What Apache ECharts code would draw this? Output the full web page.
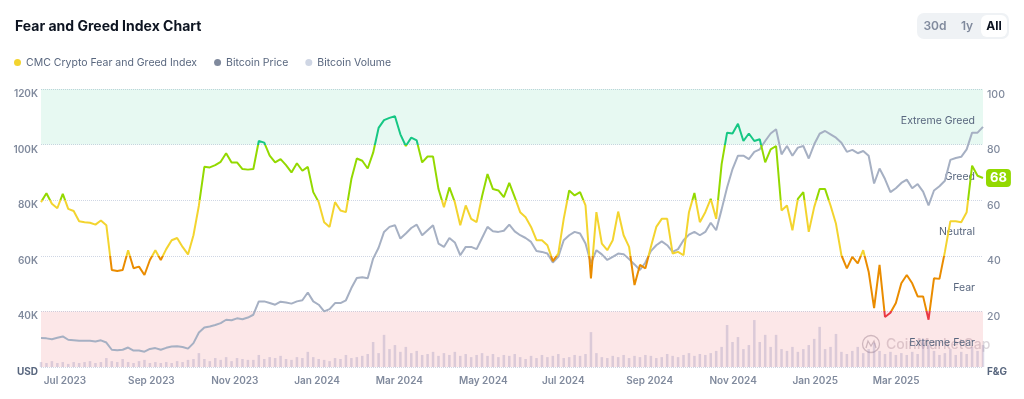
<!DOCTYPE html>
<html>
<head>
<meta charset="utf-8">
<title>Fear and Greed Index Chart</title>
<script src="https://cdn.jsdelivr.net/npm/echarts@6/dist/echarts.min.js"></script>
<style>
html, body { margin: 0; padding: 0; background: #fff; }
#chart { width: 1024px; height: 399px; }
</style>
</head>
<body>
<div id="chart"></div>
<script>
// one sample every 4 days, first one on 2023-06-29
var startDate = Date.UTC(2023, 5, 29);
var stepDays = 4;

// CMC Crypto Fear and Greed Index (0-100)
var fngValues = [
  59.3, 62.5, 58.7, 57.1, 62.3, 56.9, 56.1, 52.4, 52.1, 51.9,
  51.2, 52.7, 51, 34.9, 34.5, 34.9, 42, 35.5, 36.1, 33.1,
  38.5, 42, 38.5, 42.4, 45.6, 46.4, 43.2, 40.5, 47.4, 58.1,
  72, 71.8, 72.6, 73.8, 76.9, 73.6, 73.6, 71.2, 71, 71.2,
  81.3, 80.7, 76, 73.6, 74.8, 72.6, 70, 73.3, 70.6, 72,
  62.9, 59.3, 52.1, 50.4, 59.3, 56.3, 55.7, 67.6, 75, 74.2,
  71.4, 77.1, 86, 88.8, 89.6, 90.2, 83.7, 79.5, 82.5, 81.5,
  73.6, 75.7, 75.7, 64, 57.5, 64.6, 59.3, 51, 58.1, 53.3,
  52.1, 61.4, 69.4, 64, 63.5, 61.1, 66.2, 61.1, 55.7, 53.9,
  50.4, 45.6, 45.6, 43.8, 38.1, 40.8, 53.3, 63.5, 61.7, 62.9,
  58.1, 31.9, 55.7, 44.4, 42, 45.6, 55.9, 47.4, 43.2, 29.5,
  36.7, 35.5, 43.2, 50.4, 53.3, 53.3, 40.8, 41.4, 40.2, 55.7,
  62.6, 52.1, 55.7, 60.5, 53.3, 73, 84.3, 84, 87.5, 81.3,
  84, 81.3, 81.9, 73.6, 78.3, 79.5, 56.3, 58.1, 49.2, 60.5,
  62.9, 48.6, 57.5, 64, 64, 58.1, 51.5, 40.2, 35.5, 39.6,
  37.3, 42, 34.3, 21.2, 36.7, 18, 19.5, 23, 30.1, 33.1,
  30.1, 25.4, 25.4, 17, 31.9, 31.7, 41.4, 52.4, 52.4, 52.1,
  55.7, 72.4, 68.8, 68
];

// Bitcoin price, thousands of USD
var btcPrice = [
  30.4, 30.3, 30.0, 30.5, 31.0, 29.8, 29.6, 29.4, 29.4, 29.4,
  29.2, 29.6, 28.8, 26.2, 26.0, 26.2, 27.0, 25.9, 25.9, 25.5,
  26.5, 26.8, 26.2, 26.9, 27.4, 27.5, 27.2, 26.6, 28.6, 32.4,
  34.2, 34.6, 35.1, 35.8, 37.0, 36.8, 37.5, 37.2, 37.8, 38.8,
  43.6, 43.6, 43.0, 42.4, 43.5, 43.2, 42.8, 43.6, 44.0, 46.8,
  43.6, 42.4, 40.0, 40.8, 43.0, 43.0, 44.0, 48.4, 52.0, 52.3,
  51.9, 59.0, 62.9, 68.6, 70.4, 71.0, 66.2, 68.0, 70.0, 71.2,
  67.4, 69.2, 71.0, 64.4, 63.2, 66.4, 64.8, 60.2, 63.2, 63.2,
  62.4, 66.4, 70.4, 68.8, 68.6, 69.0, 71.2, 68.8, 67.4, 66.4,
  65.0, 61.7, 61.4, 60.8, 57.6, 59.6, 65.6, 67.4, 68.6, 68.0,
  64.4, 57.3, 62.0, 60.5, 58.5, 59.6, 60.8, 60.6, 58.8, 56.9,
  54.9, 57.6, 61.7, 63.8, 65.2, 63.8, 61.4, 62.4, 65.6, 67.6,
  68.6, 67.4, 68.6, 71.9, 69.2, 76.7, 84.6, 91.2, 96.0, 96.0,
  94.8, 97.4, 98.3, 101.3, 104.0, 105.5, 96.5, 99.5, 96.0, 98.9,
  99.5, 95.0, 100.1, 103.9, 104.9, 103.7, 102.5, 100.7, 97.4, 98.1,
  96.9, 97.7, 96.0, 86.0, 91.4, 87.6, 82.9, 84.3, 86.2, 87.4,
  84.3, 85.8, 83.1, 78.1, 83.5, 85.0, 87.0, 94.5, 95.2, 95.6,
  98.3, 104.3, 104.3, 106.4
];

// Bitcoin volume, billions of USD
var btcVolume = [
  16, 13, 19, 13, 16, 10, 16, 13, 16, 19,
  13, 16, 29, 19, 16, 26, 16, 13, 19, 23,
  13, 16, 13, 16, 13, 19, 16, 23, 26, 45,
  26, 19, 29, 23, 32, 19, 29, 26, 23, 23,
  39, 26, 32, 29, 36, 26, 23, 32, 29, 49,
  32, 26, 23, 19, 29, 26, 39, 29, 32, 36,
  42, 81, 45, 104, 58, 71, 49, 65, 45, 52,
  39, 42, 49, 36, 45, 39, 49, 36, 42, 32,
  39, 45, 36, 42, 32, 39, 36, 42, 32, 26,
  36, 29, 39, 32, 36, 42, 29, 32, 39, 36,
  42, 113, 45, 32, 29, 36, 32, 39, 29, 36,
  32, 39, 36, 29, 32, 42, 36, 32, 39, 45,
  36, 42, 39, 45, 52, 65, 136, 81, 97, 58,
  71, 152, 81, 104, 65, 104, 58, 52, 65, 49,
  58, 71, 91, 130, 58, 65, 107, 49, 42, 52,
  65, 45, 58, 78, 52, 42, 49, 39, 45, 39,
  49, 42, 91, 71, 52, 39, 45, 58, 39, 49,
  42, 65, 52, 71
];

var tickDates = ['2023-07-01', '2023-09-01', '2023-11-01', '2024-01-01', '2024-03-01', '2024-05-01',
  '2024-07-01', '2024-09-01', '2024-11-01', '2025-01-01', '2025-03-01'];
var monthNames = ['Jan', 'Feb', 'Mar', 'Apr', 'May', 'Jun', 'Jul', 'Aug', 'Sep', 'Oct', 'Nov', 'Dec'];

var bandNames = ['Extreme Fear', 'Fear', 'Neutral', 'Greed', 'Extreme Greed'];
var bandEdges = [0, 20, 40, 60, 80, 100];

function dayAt(i) {
  return startDate + i * stepDays * 86400000;
}
function parseDay(s) {
  var p = s.split('-');
  return Date.UTC(+p[0], +p[1] - 1, +p[2]);
}

var fngData = fngValues.map(function (v, i) { return [dayAt(i), v]; });
var btcData = btcPrice.map(function (v, i) { return [dayAt(i), v]; });
var volData = btcVolume.map(function (v, i) { return [dayAt(i), v]; });
var lastFng = fngValues[fngValues.length - 1];

var bandAreas = bandNames.map(function (n, k) {
  var fill = 'rgba(0,0,0,0)';
  if (k == 0) fill = 'rgba(234,57,67,0.12)';
  if (k == 4) fill = 'rgba(22,199,132,0.1)';
  return [{ name: n, yAxis: bandEdges[k], itemStyle: { color: fill } }, { yAxis: bandEdges[k + 1] }];
});

var chart = echarts.init(document.getElementById('chart'));

var option = {
  animation: false,
  backgroundColor: '#fff',
  textStyle: { fontFamily: 'Inter, "Noto Sans", sans-serif' },
  title: {
    text: 'Fear and Greed Index Chart',
    left: 10,
    top: 15,
    textStyle: { fontSize: 14, fontWeight: 700, color: '#0d1421', fontFamily: 'Inter' }
  },
  legend: {
    left: 9,
    top: 52,
    icon: 'circle',
    itemWidth: 7,
    itemHeight: 7,
    itemGap: 17,
    textStyle: { color: '#58667e', fontSize: 10.5, fontFamily: 'Inter' },
    data: [
      { name: 'CMC Crypto Fear and Greed Index', itemStyle: { color: '#f3d42f' } },
      { name: 'Bitcoin Price', itemStyle: { color: '#808a9d' } },
      { name: 'Bitcoin Volume', itemStyle: { color: '#cfd6e4' } }
    ]
  },
  grid: { left: 41, right: 41, top: 89, bottom: 32 },
  visualMap: {
    type: 'piecewise',
    show: false,
    seriesIndex: 0,
    dimension: 1,
    pieces: [
      { lt: 20, color: '#ea3943' },
      { gte: 20, lt: 40, color: '#ea8c00' },
      { gte: 40, lt: 60, color: '#f3d42f' },
      { gte: 60, lt: 80, color: '#93d900' },
      { gte: 80, color: '#16c784' }
    ]
  },
  xAxis: {
    type: 'value',
    min: dayAt(0),
    max: dayAt(fngValues.length - 1),
    axisLine: { show: false },
    axisTick: { show: false },
    splitLine: { show: false },
    axisLabel: {
      customValues: tickDates.map(parseDay),
      align: 'left',
      margin: 9,
      color: '#808a9d',
      fontSize: 10,
      fontWeight: 600,
      formatter: function (v) {
        var d = new Date(v);
        return monthNames[d.getUTCMonth()] + ' ' + d.getUTCFullYear();
      }
    }
  },
  yAxis: [
    {
      type: 'value',
      min: 20,
      max: 120,
      interval: 20,
      position: 'left',
      axisLine: { show: false },
      axisTick: { show: false },
      splitLine: { lineStyle: { type: 'dotted', color: '#cfd6e4' } },
      axisLabel: {
        margin: 3,
        verticalAlign: 'top',
        color: '#808a9d',
        fontSize: 10,
        fontWeight: 600,
        formatter: function (v) { return v == 20 ? '{u|USD}' : v + 'K'; },
        rich: { u: { fontWeight: 700, color: '#58667e', fontSize: 10 } }
      }
    },
    {
      type: 'value',
      min: 0,
      max: 100,
      interval: 20,
      position: 'right',
      axisLine: { show: false },
      axisTick: { show: false },
      splitLine: { show: false },
      axisLabel: {
        margin: 4,
        verticalAlign: 'top',
        color: '#808a9d',
        fontSize: 10.5,
        fontWeight: 500,
        formatter: function (v) { return v == 0 ? '{u|F&G}' : v; },
        rich: { u: { fontWeight: 700, color: '#58667e', fontSize: 10 } }
      }
    },
    { type: 'value', min: 0, max: 900, show: false }
  ],
  graphic: [
    { type: 'rect', shape: { x: 917, y: 13, width: 92, height: 26, r: 7 }, style: { fill: '#eff2f5' } },
    { type: 'rect', shape: { x: 981, y: 15, width: 26, height: 22, r: 6 }, style: { fill: '#fff' } },
    { type: 'text', x: 935, y: 26, style: { text: '30d', fill: '#808a9d', font: '600 12px Inter', textAlign: 'center', textVerticalAlign: 'middle' } },
    { type: 'text', x: 967, y: 26, style: { text: '1y', fill: '#808a9d', font: '600 12px Inter', textAlign: 'center', textVerticalAlign: 'middle' } },
    { type: 'text', x: 994, y: 26, style: { text: 'All', fill: '#0d1421', font: '700 12px Inter', textAlign: 'center', textVerticalAlign: 'middle' } },
    { type: 'circle', shape: { cx: 871, cy: 344, r: 8.5 }, style: { fill: 'none', stroke: '#cdc9d0', lineWidth: 1.3 }, z: 1 },
    { type: 'polyline', shape: { points: [[866, 348], [868, 341], [871, 346], [874, 341], [876, 348]] }, style: { fill: 'none', stroke: '#cdc9d0', lineWidth: 1.3 }, z: 1 },
    { type: 'text', x: 886, y: 345, style: { text: 'CoinMarketCap', fill: '#dcd7dc', font: '500 14px Inter', textVerticalAlign: 'middle' }, z: 1 }
  ],
  series: [
    {
      name: 'CMC Crypto Fear and Greed Index',
      type: 'line',
      yAxisIndex: 1,
      data: fngData,
      showSymbol: false,
      z: 4,
      lineStyle: { width: 2 },
      markArea: {
        silent: true,
        label: { position: 'insideRight', color: '#58667e', fontSize: 10.5, fontFamily: 'Inter', distance: 8, offset: [0, 4] },
        data: bandAreas
      },
      markLine: {
        silent: true,
        symbol: 'none',
        lineStyle: { color: 'rgba(0,0,0,0)', width: 0 },
        label: {
          show: true,
          position: 'end',
          distance: 3,
          formatter: function () { return String(Math.round(lastFng)); },
          backgroundColor: '#93d900',
          color: '#fff',
          fontWeight: 700,
          fontSize: 13,
          padding: [3, 4, 2, 4],
          borderRadius: 4
        },
        data: [{ yAxis: lastFng }]
      }
    },
    {
      name: 'Bitcoin Price',
      type: 'line',
      yAxisIndex: 0,
      data: btcData,
      showSymbol: false,
      z: 3,
      color: '#a6b0c3',
      lineStyle: { width: 2, color: '#a6b0c3' }
    },
    {
      name: 'Bitcoin Volume',
      type: 'bar',
      yAxisIndex: 2,
      data: volData,
      barWidth: 2.5,
      z: 2,
      itemStyle: { color: 'rgba(150,140,185,0.32)' }
    }
  ]
};

chart.setOption(option);
</script>
</body>
</html>
